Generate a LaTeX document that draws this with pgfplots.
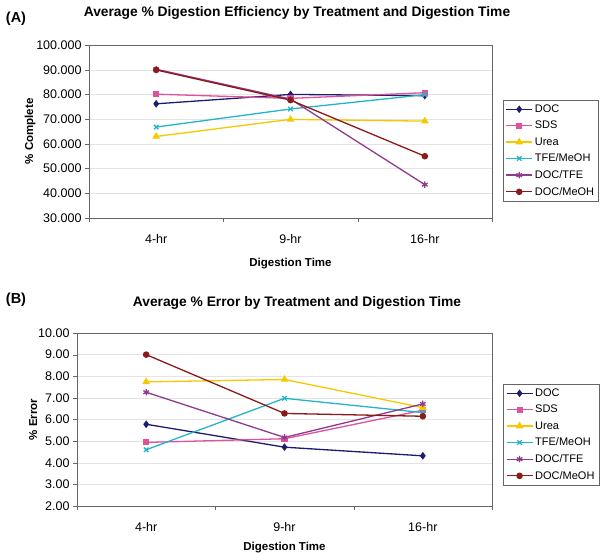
\documentclass[border=0pt]{standalone}
\usepackage{fontspec}
\setmainfont{Liberation Sans}
\usepackage{pgfplots}
\pgfplotsset{compat=1.18}

\definecolor{cDOC}{HTML}{1C1C70}
\definecolor{cSDS}{HTML}{E0529C}
\definecolor{cUrea}{HTML}{F5C800}
\definecolor{cTFE}{HTML}{22B5C9}
\definecolor{cDT}{HTML}{8E3A8E}
\definecolor{cDM}{HTML}{8B1A1A}

\pgfplotsset{
  panel/.style={
    scale only axis,
    anchor=south west,
    height=173pt,
    xmin=-0.5, xmax=2.5,
    xtick={0,1,2},
    xticklabels={4-hr,9-hr,16-hr},
    major tick length=4pt,
    tick align=outside,
    tick pos=left,
    xtick style={draw=none},
    extra x ticks={-0.5,0.5,1.5,2.5},
    extra x tick labels={},
    extra x tick style={xtick style={draw=gray!80!black}, major tick length=4pt},
    ymajorgrids=true,
    grid style={gray!22},
    axis line style={gray!80!black},
    ytick style={gray!80!black},
    tick label style={font=\fontsize{12.5}{14}\selectfont},
    /pgf/number format/assume math mode=true,
    xticklabel style={yshift=-9pt},
    xlabel style={font=\fontsize{11.5}{13}\bfseries\selectfont},
    ylabel style={font=\fontsize{11.5}{13}\bfseries\selectfont, yshift=-6pt},
    legend cell align=left,
    legend style={font=\fontsize{11}{14}\selectfont, draw=gray!80!black, inner sep=2.5pt,
      row sep=3.2pt, anchor=north west},
    legend image code/.code={
      \draw[mark repeat=2,mark phase=2,#1] plot coordinates {(0pt,0pt) (13pt,0pt) (26pt,0pt)};},
    every axis plot/.append style={line width=1.3pt, mark size=2.8pt},
  },
  sDOC/.style={color=cDOC, mark=diamond*},
  sSDS/.style={color=cSDS, mark=square*, mark size=2.4pt},
  sUrea/.style={color=cUrea, mark=triangle*, mark size=3.2pt},
  sTFE/.style={color=cTFE, mark=x, mark size=3.2pt},
  sDT/.style={color=cDT, mark=asterisk, mark size=3.2pt},
  sDM/.style={color=cDM, mark=*, mark size=2.6pt},
}

\begin{document}
\begin{tikzpicture}[x=1pt,y=1pt]
\path[use as bounding box] (0,0) rectangle (600,554);

% panel titles
\node[font=\fontsize{14.5}{16}\bfseries\selectfont] at (16,535) {(A)};
\node[font=\fontsize{13.8}{16}\bfseries\selectfont] at (297,541) {Average \% Digestion Efficiency by Treatment and Digestion Time};
\node[font=\fontsize{14.5}{16}\bfseries\selectfont] at (16,254) {(B)};
\node[font=\fontsize{13.8}{16}\bfseries\selectfont] at (297,251) {Average \% Error by Treatment and Digestion Time};

% (A)
\begin{axis}[panel,
  at={(89pt,336pt)}, width=403pt,
  ymin=30, ymax=100, ytick={30,40,...,100},
  yticklabel style={/pgf/number format/.cd, fixed, fixed zerofill, precision=3},
  xlabel={Digestion Time}, ylabel={\% Complete},
  legend style={at={(1.027,0.682)}},
]
\addplot[sDOC] coordinates {(0,76.2) (1,80.0) (2,79.5)};
\addplot[sSDS] coordinates {(0,80.1) (1,78.4) (2,80.7)};
\addplot[sUrea] coordinates {(0,63.0) (1,69.9) (2,69.2)};
\addplot[sTFE] coordinates {(0,66.8) (1,74.1) (2,79.9)};
\addplot[sDT] coordinates {(0,90.2) (1,78.1) (2,43.5)};
\addplot[sDM] coordinates {(0,89.9) (1,77.7) (2,55.0)};
\legend{DOC,SDS,Urea,TFE/MeOH,DOC/TFE,DOC/MeOH}
\end{axis}

% (B)
\begin{axis}[panel,
  at={(77pt,48pt)}, width=415pt,
  ymin=2, ymax=10, ytick={2,3,...,10},
  yticklabel style={/pgf/number format/.cd, fixed, fixed zerofill, precision=2},
  xlabel={Digestion Time}, ylabel={\% Error},
  xlabel style={yshift=4pt},
  legend style={at={(1.027,0.705)}},
]
\addplot[sDOC] coordinates {(0,5.78) (1,4.72) (2,4.32)};
\addplot[sSDS] coordinates {(0,4.94) (1,5.11) (2,6.43)};
\addplot[sUrea] coordinates {(0,7.74) (1,7.85) (2,6.55)};
\addplot[sTFE] coordinates {(0,4.60) (1,6.98) (2,6.32)};
\addplot[sDT] coordinates {(0,7.26) (1,5.17) (2,6.72)};
\addplot[sDM] coordinates {(0,9.00) (1,6.28) (2,6.15)};
\legend{DOC,SDS,Urea,TFE/MeOH,DOC/TFE,DOC/MeOH}
\end{axis}
\end{tikzpicture}
\end{document}
